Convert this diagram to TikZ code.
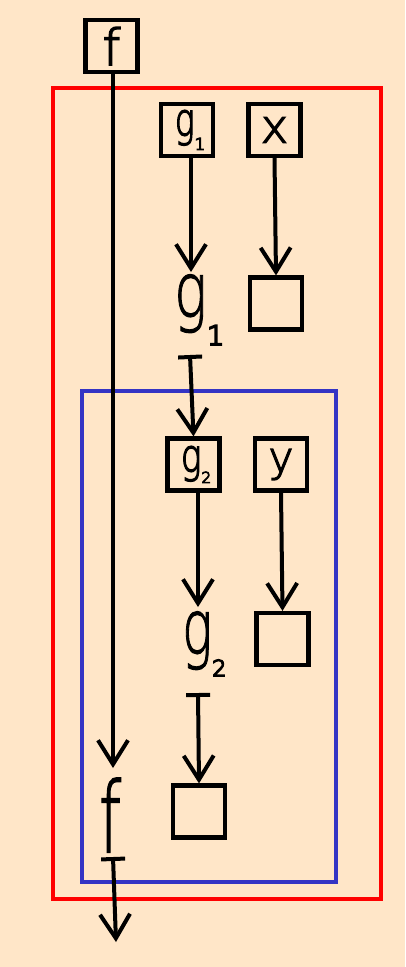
\documentclass[tikz,border=0pt]{standalone}
\usepackage{fontspec}
\setmainfont{DejaVu Sans ExtraLight}
\newfontfamily\boxfont{DejaVu Sans ExtraLight}[FakeBold=3]
\newfontfamily\bigfont{DejaVu Sans ExtraLight}[FakeBold=1.6]
\newfontfamily\subfont{DejaVu Sans ExtraLight}[FakeBold=7]
\usetikzlibrary{arrows.meta}
\definecolor{bg}{RGB}{255,230,200}
\definecolor{myred}{RGB}{255,0,0}
\definecolor{myblue}{RGB}{52,52,196}
\newcommand\subsc[3]{\raisebox{-#1}{\subfont\fontsize{#2}{#2}\selectfont #3}}
\begin{document}
\begin{tikzpicture}[x=1pt,y=-1pt,
  box/.style={draw, line width=4.2pt, minimum width=52pt, minimum height=52pt, inner sep=0pt, font=\boxfont\fontsize{46}{46}\selectfont},
  arr/.style={line width=4pt, -{Straight Barb[length=24pt,width=30pt]}},
  barr/.style={line width=4pt, {Bar[width=24pt]}-{Straight Barb[length=24pt,width=30pt]}},
  lbl/.style={inner sep=0pt, anchor=base west, font=\bigfont\fontsize{76}{76}\selectfont},
  frame/.style={line width=3.6pt}]
\fill[bg] (0,0) rectangle (405,967);
\useasboundingbox (0,0) rectangle (405,967);
% frames
\draw[frame, myred] (53,88) rectangle (381,899);
\draw[frame, myblue] (82,391) rectangle (336,882);
% boxes
\node[box, font=\boxfont\fontsize{50}{50}\selectfont] (fbox) at (111.5,46) {f};
\node[box, font=\boxfont\fontsize{46}{46}\selectfont] (g1box) at (187,130) {\hspace*{6pt}\scalebox{0.72}[1]{g}\subsc{14pt}{16.5pt}{1}};
\node[box] (xbox) at (274.5,130) {x};
\node[box] (xsq) at (276,303.5) {};
\node[box, font=\boxfont\fontsize{46}{46}\selectfont] (g2box) at (193.5,464.5) {\hspace*{5pt}\scalebox{0.75}[1]{g}\subsc{11pt}{15pt}{2}};
\node[box, font=\boxfont\fontsize{42}{42}\selectfont] (ybox) at (281,464.5) {y};
\node[box] (ysq) at (282.5,639) {};
\node[box] (fsq) at (199,811.5) {};
% big labels
\node[lbl] (g1lbl) at (174,317) {\scalebox{0.72}[1]{g}\subsc{28pt}{27pt}{1}};
\node[lbl] (g2lbl) at (182,654) {\scalebox{0.66}[1]{g}\subsc{22pt}{22pt}{2}};
\node[inner sep=0pt, font=\bigfont\fontsize{98}{98}\selectfont] (flbl) at (110,815) {\scalebox{0.64}[1]{f}};
% connector ends
\coordinate (g1in) at (191,272);
\coordinate (g1out) at (190,355);
\coordinate (g2in) at (198,607);
\coordinate (g2out) at (198,693);
\coordinate (fin) at (113,768);
\coordinate (fout) at (113,857);
\coordinate (fend) at (116,942);
% connectors
\draw[arr] (fbox.south -| fin) -- (fin);
\draw[arr] (g1box.south -| g1in) -- (g1in);
\draw[arr] (xbox.south) -- (xsq.north);
\draw[barr] (g1out) -- (g2box.north);
\draw[arr] (g2box.south -| g2in) -- (g2in);
\draw[arr] (ybox.south) -- (ysq.north);
\draw[barr] (g2out) -- (fsq.north);
\draw[barr] (fout) -- (fend);
\end{tikzpicture}
\end{document}
